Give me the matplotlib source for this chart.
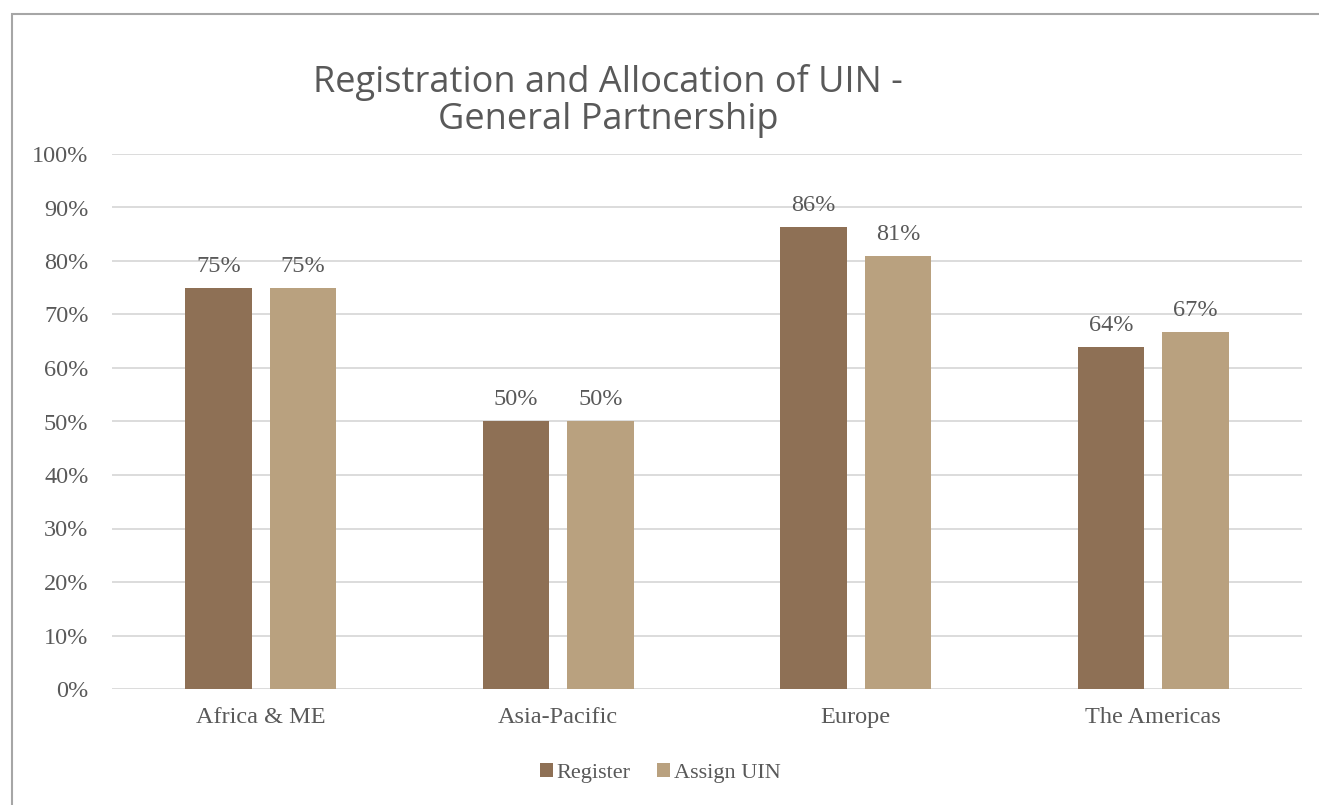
import matplotlib
matplotlib.use("Agg")
import matplotlib.pyplot as plt
import numpy as np
from matplotlib.patches import Rectangle
from matplotlib.ticker import PercentFormatter

regions = ["Africa & ME", "Asia-Pacific", "Europe", "The Americas"]
register = [75.0, 50.0, 86.4, 63.9]
assign_uin = [75.0, 50.0, 81.0, 66.7]

C_REG, C_UIN = "#8E7055", "#B9A17F"
TXT, GRID = "#595959", "#D9D9D9"
SERIF = ["Liberation Serif", "DejaVu Serif"]

W, H = 1319, 805
fig = plt.figure(figsize=(W / 100, H / 100), dpi=100, facecolor="white")

# chart frame (left + top edges visible, the rest runs off the image)
fig.patches.append(Rectangle((12 / W, -0.05), 1.2, 1 - 14 / H + 0.05,
                             transform=fig.transFigure, fill=False,
                             edgecolor="#A6A6A6", lw=1.5))

ax = fig.add_axes([112 / W, 1 - 689 / H, (1302 - 112) / W, (689 - 154) / H])
x = np.arange(len(regions))
bw = 0.225
off = 0.142
b1 = ax.bar(x - off, register, bw, color=C_REG, label="Register", zorder=3)
b2 = ax.bar(x + off, assign_uin, bw, color=C_UIN, label="Assign UIN", zorder=3)

for bars, vals in ((b1, register), (b2, assign_uin)):
    for b, v in zip(bars, vals):
        ax.annotate(f"{v:.0f}%", (b.get_x() + b.get_width() / 2, v),
                    xytext=(0, 8), textcoords="offset points",
                    ha="center", va="bottom", fontsize=17.5, color=TXT,
                    family=SERIF)

ax.set_xlim(-0.5, len(regions) - 0.5)
ax.set_ylim(0, 100)
ax.set_yticks(np.arange(0, 101, 10))
ax.yaxis.set_major_formatter(PercentFormatter(decimals=0))
ax.set_xticks(x)
ax.set_xticklabels(regions)
ax.grid(axis="y", color=GRID, lw=1.3, zorder=0)
for s in ax.spines.values():
    s.set_visible(False)
ax.tick_params(length=0, labelsize=17.5, labelcolor=TXT)
ax.tick_params(axis="y", pad=17)
ax.tick_params(axis="x", pad=13)
for lab in ax.get_xticklabels() + ax.get_yticklabels():
    lab.set_family(SERIF)

fig.text(608 / W, 1 - 101 / H, "Registration and Allocation of UIN -\nGeneral Partnership",
         ha="center", va="center", fontsize=26, color=TXT, family="Open Sans",
         linespacing=1.05)

ax.legend(loc="center", bbox_to_anchor=(660 / W, 1 - 773 / H),
          bbox_transform=fig.transFigure, ncol=2, frameon=False,
          prop={"family": SERIF, "size": 16}, labelcolor=TXT,
          handlelength=0.6, handleheight=0.6, handletextpad=0.15,
          columnspacing=1.2)

fig.savefig("out.png", dpi=100, facecolor="white")
